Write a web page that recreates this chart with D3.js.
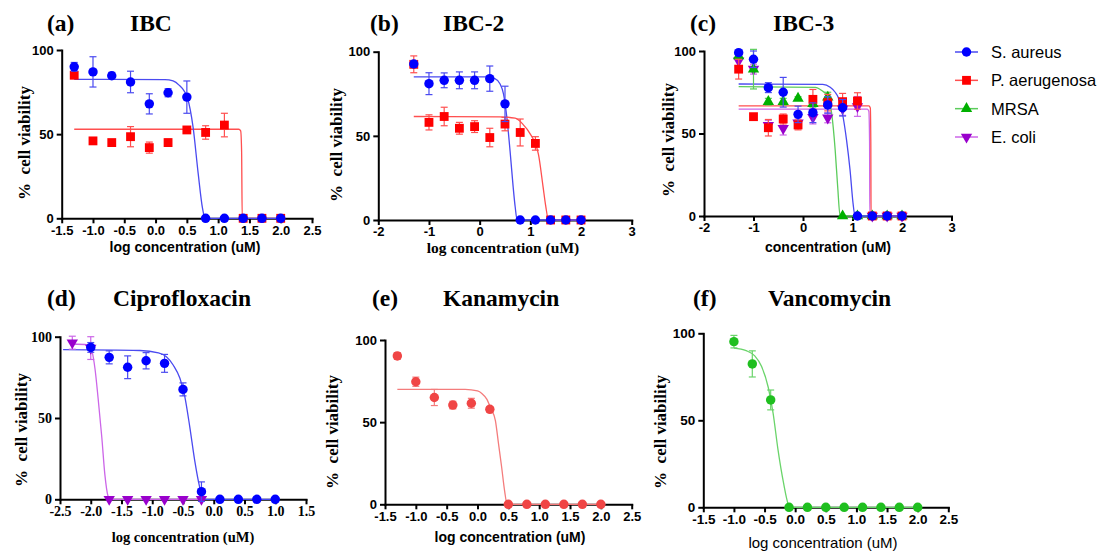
<!DOCTYPE html>
<html lang="en">
<head>
    <meta charset="utf-8">
    <title>Cell viability</title>
    <script src="https://d3js.org/d3.v7.min.js" charset="utf-8"></script>
    <style type="text/css">
        body { margin: 0; background: #fff; }
        .serif { font-family: 'Liberation Serif', 'Times New Roman', serif; font-weight: bold; }
        .sans { font-family: 'Liberation Sans', Arial, sans-serif; }
    </style>
</head>
<body>
    <script type="text/javascript">

        // ---- data ----
        var xStd = [-1.3, -1.0, -0.7, -0.4, -0.1, 0.2, 0.5, 0.8, 1.1, 1.4, 1.7, 2.0];
        var yTicks = [0, 50, 100];
        var ticksHalf = [-1.5, -1.0, -0.5, 0.0, 0.5, 1.0, 1.5, 2.0, 2.5];
        var ticksInt = [-2, -1, 0, 1, 2, 3];
        var ticksCipro = [-2.5, -2.0, -1.5, -1.0, -0.5, 0.0, 0.5, 1.0, 1.5];
        var legendLabels = ["S. aureus", "P. aerugenosa", "MRSA", "E. coli"];

        // (a) IBC
        var aSa = [90, 87, 84.7, 81, 68, 74.6, 72, 0, 0, 0, 0, 0];
        var aSaErr = [2.6, 9, 2, 6.4, 6, 2.4, 9.6, 0, 0, 0, 0, 0];
        var aPa = [85, 46, 45, 48.5, 42, 45, 52.5, 51, 55.4, 0, 0, 0];
        var aPaErr = [1.5, 1, 1, 6, 3.3, 2, 2, 4, 7, 0, 0, 0];
        var aSaFit = [[-1.3, 82.6], [0.15, 82.4], [0.28, 81.6], [0.38, 79], [0.45, 76], [0.51, 71.5], [0.6, 54], [0.68, 27], [0.75, 6], [0.79, 0], [2.0, 0]];
        var aPaFit = [[-1.3, 52.9], [1.33, 52.9], [1.36, 52], [1.375, 40], [1.385, 0], [2.0, 0]];

        // (b) IBC-2
        var bSa = [92.7, 81, 83, 83, 83, 84, 69, 0, 0, 0, 0, 0];
        var bSaErr = [2, 6.5, 4.4, 5, 5, 7.5, 10.5, 0, 0, 0, 0, 0];
        var bPa = [92.5, 58, 61.5, 54.5, 55.5, 49, 57, 52, 45.5, 0, 0, 0];
        var bPaErr = [5, 4.5, 5.5, 3.5, 3.5, 5.5, 4, 8, 4, 0, 0, 0];
        var bSaFit = [[-1.3, 85], [0.15, 85], [0.3, 84], [0.4, 81], [0.47, 75], [0.54, 60], [0.6, 41], [0.66, 20], [0.7, 8], [0.74, 0], [2.0, 0]];
        var bPaFit = [[-1.3, 61.5], [0.4, 61.3], [0.7, 60.5], [0.85, 57], [0.99, 51.5], [1.16, 39], [1.25, 20], [1.3, 9], [1.36, 0], [2.0, 0]];

        // (c) IBC-3
        var cSa = [99, 95, 77.8, 75, 61.6, 62.6, 67.3, 65.6, 0, 0, 0, 0];
        var cSaErr = [1, 5, 3, 9, 5, 6, 5, 5, 0, 0, 0, 0];
        var cPa = [89, 60.2, 53.5, 58.8, 55.2, 70.7, 68.7, 69.3, 69.7, 0, 0, 0];
        var cPaErr = [6, 0, 5, 3, 3, 6, 5, 5, 5, 0, 0, 0];
        var cMr = [97, 89, 69.3, 69.3, 71.3, 68, 72, 0, 0, 0, 0, 0];
        var cMrErr = [2, 12, 2, 2, 1, 2, 3, 0, 0, 0, 0, 0];
        var cEc = [94, 89, 55, 53.1, 56.5, 59.8, 59.5, 65, 66.4, 0, 0, 0];
        var cEcErr = [3, 3, 3, 4, 3, 4, 3, 4, 6, 0, 0, 0];
        var cSaFit = [[-1.3, 80], [0.4, 79.8], [0.55, 78], [0.65, 75], [0.71, 72], [0.81, 60], [0.88, 46], [0.95, 28], [1.01, 8], [1.05, 0], [2.0, 0]];
        var cPaFit = [[-1.3, 66.7], [1.33, 66.7], [1.36, 65.5], [1.37, 45], [1.375, 0], [2.0, 0]];
        var cMrFit = [[-1.3, 78.4], [0.25, 78], [0.38, 76], [0.51, 72.3], [0.58, 62], [0.65, 40], [0.7, 18], [0.75, 0], [2.0, 0]];
        var cEcFit = [[-1.3, 64.8], [1.3, 64.8], [1.33, 63.5], [1.345, 45], [1.35, 0], [2.0, 0]];

        // (d) Ciprofloxacin
        var dSaX = [-2.0, -1.7, -1.4, -1.1, -0.8, -0.5, -0.2, 0.1, 0.4, 0.7, 1.0];
        var dSa = [93.4, 87.3, 81.2, 85.2, 83.6, 67.6, 4.7, 0, 0, 0, 0];
        var dSaErr = [3, 4, 7, 5, 5.5, 4, 6, 0, 0, 0, 0];
        var dEcX = [-2.3, -2.0, -1.7, -1.4, -1.1, -0.8, -0.5, -0.2];
        var dEc = [96.3, 93, 0, 0, 0, 0, 0, 0];
        var dEcErr = [4, 7, 0, 0, 0, 0, 0, 0];
        var dSaFit = [[-2.45, 92], [-1.2, 91.5], [-0.9, 90], [-0.77, 87.7], [-0.66, 82.6], [-0.55, 74.4], [-0.47, 63], [-0.39, 44.6], [-0.31, 24], [-0.23, 7.7], [-0.17, 0], [1.0, 0]];
        var dEcFit = [[-2.3, 95.5], [-2.05, 95], [-1.98, 91], [-1.93, 80], [-1.88, 62], [-1.82, 38], [-1.77, 15], [-1.72, 2], [-1.69, 0], [-0.2, 0]];

        // (e) Kanamycin
        var eKa = [90.3, 74.6, 65, 60.4, 61.5, 57.8, 0, 0, 0, 0, 0, 0];
        var eKaErr = [2, 2.8, 4.9, 2.3, 3, 1.7, 0, 0, 0, 0, 0, 0];
        var eKaFit = [[-1.3, 70], [-0.2, 70], [0.0, 69], [0.07, 67.5], [0.15, 64], [0.22, 58], [0.29, 51], [0.34, 37], [0.39, 23], [0.44, 8], [0.48, 0], [2.0, 0]];

        // (f) Vancomycin
        var fX = [-1.0, -0.7, -0.4, -0.1, 0.2, 0.5, 0.8, 1.1, 1.4, 1.7, 2.0];
        var fVa = [95.2, 82.4, 61.7, 0, 0, 0, 0, 0, 0, 0, 0];
        var fVaErr = [3.6, 7.5, 5.7, 0, 0, 0, 0, 0, 0, 0, 0];
        var fVaFit = [[-1.0, 91.5], [-0.8, 90], [-0.66, 87], [-0.55, 81], [-0.44, 69], [-0.36, 54], [-0.28, 33], [-0.19, 14], [-0.11, 1.5], [-0.07, 0], [2.0, 0]];

        // ---- styles ----
        var SERIF = "'Liberation Serif', 'Times New Roman', serif",
            SANS = "'Liberation Sans', Arial, sans-serif";

        var sty = {
            sa: { sym: d3.symbolCircle, size: 70, rot: 0, color: "#0000ff", line: "#4a4af0" },
            pa: { sym: d3.symbolSquare, size: 78, rot: 0, color: "#ff0000", line: "#ff4f4f" },
            mr: { sym: d3.symbolTriangle, size: 56, rot: 0, color: "#00b000", line: "#5ccc5c" },
            ec: { sym: d3.symbolTriangle, size: 56, rot: 180, color: "#9900cc", line: "#cc66e8" },
            ka: { sym: d3.symbolCircle, size: 70, rot: 0, color: "#f04545", line: "#f47c7c" },
            va: { sym: d3.symbolCircle, size: 70, rot: 0, color: "#1fbf1f", line: "#6ad46a" }
        };

        var fmt1 = function (d) { return d.toFixed(1); },
            fmt0 = function (d) { return String(d); };

        var panels = [
            { tag: "(a)", tagX: 47, name: "IBC", nameX: 130, titleY: 31,
              left: 61.7, right: 312, top: 50, bottom: 218.3, xTicks: ticksHalf, fmt: fmt1,
              tickFont: SANS, tickSize: 13, xlab: "log concentration (uM)", xlabFont: SANS, xlabWeight: "bold", xlabSize: 14,
              xlabX: 185, xlabY: 252, ylabX: 24, ylabY: 143,
              series: [
                  { x: xStd, y: aPa, e: aPaErr, fit: aPaFit, s: sty.pa },
                  { x: xStd, y: aSa, e: aSaErr, fit: aSaFit, s: sty.sa }] },
            { tag: "(b)", tagX: 370, name: "IBC-2", nameX: 443, titleY: 31,
              left: 378.3, right: 631.7, top: 51.7, bottom: 220, xTicks: ticksInt, fmt: fmt0,
              tickFont: SANS, tickSize: 13, xlab: "log concentration (uM)", xlabFont: SERIF, xlabWeight: "bold", xlabSize: 15.5,
              xlabX: 503, xlabY: 253, ylabX: 336, ylabY: 145,
              series: [
                  { x: xStd, y: bPa, e: bPaErr, fit: bPaFit, s: sty.pa },
                  { x: xStd, y: bSa, e: bSaErr, fit: bSaFit, s: sty.sa }] },
            { tag: "(c)", tagX: 690, name: "IBC-3", nameX: 773, titleY: 31,
              left: 704, right: 951.5, top: 51, bottom: 216, xTicks: ticksInt, fmt: fmt0,
              tickFont: SANS, tickSize: 13, xlab: "concentration (uM)", xlabFont: SANS, xlabWeight: "bold", xlabSize: 14,
              xlabX: 828, xlabY: 252, ylabX: 668, ylabY: 140,
              series: [
                  { x: xStd, y: cEc, e: cEcErr, fit: cEcFit, s: sty.ec },
                  { x: xStd, y: cMr, e: cMrErr, fit: cMrFit, s: sty.mr },
                  { x: xStd, y: cPa, e: cPaErr, fit: cPaFit, s: sty.pa },
                  { x: xStd, y: cSa, e: cSaErr, fit: cSaFit, s: sty.sa }] },
            { tag: "(d)", tagX: 47, name: "Ciprofloxacin", nameX: 113, titleY: 306,
              left: 60, right: 306, top: 336.7, bottom: 499.3, xTicks: ticksCipro, fmt: fmt1,
              tickFont: SERIF, tickSize: 14, xlab: "log concentration (uM)", xlabFont: SERIF, xlabWeight: "bold", xlabSize: 14.5,
              xlabX: 183, xlabY: 542, ylabX: 21, ylabY: 430,
              series: [
                  { x: dEcX, y: dEc, e: dEcErr, fit: dEcFit, s: sty.ec },
                  { x: dSaX, y: dSa, e: dSaErr, fit: dSaFit, s: sty.sa }] },
            { tag: "(e)", tagX: 372, name: "Kanamycin", nameX: 443, titleY: 306,
              left: 385, right: 631.7, top: 340, bottom: 504.3, xTicks: ticksHalf, fmt: fmt1,
              tickFont: SANS, tickSize: 13, xlab: "log concentration (uM)", xlabFont: SANS, xlabWeight: "bold", xlabSize: 14,
              xlabX: 510, xlabY: 542, ylabX: 332, ylabY: 432,
              series: [
                  { x: xStd, y: eKa, e: eKaErr, fit: eKaFit, s: sty.ka }] },
            { tag: "(f)", tagX: 693, name: "Vancomycin", nameX: 768, titleY: 306,
              left: 703.3, right: 948.3, top: 333.3, bottom: 507.3, xTicks: ticksHalf, fmt: fmt1,
              tickFont: SANS, tickSize: 13.5, xlab: "log concentration (uM)", xlabFont: SANS, xlabWeight: "normal", xlabSize: 15,
              xlabX: 823, xlabY: 548, ylabX: 660, ylabY: 432,
              series: [
                  { x: fX, y: fVa, e: fVaErr, fit: fVaFit, s: sty.va }] }
        ];

        var svg = d3.select("body").append("svg")
            .attr("width", 1105)
            .attr("height", 552)
            .style("background", "#fff");

        function styleAxis(ax, p) {
            ax.select(".domain").attr("stroke", "#000").attr("stroke-width", 2).attr("stroke-linecap", "square");
            ax.selectAll(".tick line").attr("stroke", "#000").attr("stroke-width", 2);
            ax.selectAll(".tick text")
                .attr("font-family", p.tickFont)
                .attr("font-weight", "bold")
                .attr("font-size", p.tickSize)
                .attr("fill", "#000");
        }

        panels.forEach(function (p) {
            var x = d3.scaleLinear()
                .domain([p.xTicks[0], p.xTicks[p.xTicks.length - 1]])
                .range([p.left, p.right]);
            var y = d3.scaleLinear()
                .domain([0, 100])
                .range([p.bottom, p.top]);

            var g = svg.append("g");

            // titles
            g.append("text").attr("class", "serif")
                .attr("x", p.tagX).attr("y", p.titleY)
                .attr("font-size", 23.5).text(p.tag);
            g.append("text").attr("class", "serif")
                .attr("x", p.nameX).attr("y", p.titleY)
                .attr("font-size", 23.5).text(p.name);

            // axes
            var xa = g.append("g")
                .attr("transform", "translate(0," + p.bottom + ")")
                .call(d3.axisBottom(x).tickValues(p.xTicks).tickFormat(p.fmt)
                    .tickSize(5).tickSizeOuter(0).tickPadding(2));
            styleAxis(xa, p);

            var ya = g.append("g")
                .attr("transform", "translate(" + p.left + ",0)")
                .call(d3.axisLeft(y).tickValues(yTicks).tickFormat(fmt0)
                    .tickSize(5).tickSizeOuter(0).tickPadding(3));
            styleAxis(ya, p);

            // axis labels
            g.append("text")
                .attr("x", p.xlabX).attr("y", p.xlabY)
                .attr("text-anchor", "middle")
                .attr("font-family", p.xlabFont)
                .attr("font-weight", p.xlabWeight)
                .attr("font-size", p.xlabSize)
                .text(p.xlab);

            g.append("text").attr("class", "serif")
                .attr("transform", "translate(" + p.ylabX + "," + p.ylabY + ") rotate(-90)")
                .attr("text-anchor", "middle")
                .attr("dy", "0.35em")
                .attr("font-size", 17)
                .text("%\u2002cell viability");

            var line = d3.line()
                .x(function (d) { return x(d[0]); })
                .y(function (d) { return y(d[1]); })
                .curve(d3.curveMonotoneX);

            // fitted curves
            p.series.forEach(function (sr) {
                g.append("path")
                    .datum(sr.fit)
                    .attr("fill", "none")
                    .attr("stroke", sr.s.line)
                    .attr("stroke-width", 1.3)
                    .attr("d", line);
            });

            // error bars + markers
            p.series.forEach(function (sr) {
                var pts = sr.x.map(function (xv, i) { return { x: xv, y: sr.y[i], e: sr.e[i] }; });
                var eb = g.append("g")
                    .attr("stroke", sr.s.line)
                    .attr("stroke-width", 1.2);
                pts.filter(function (d) { return d.e > 0; }).forEach(function (d) {
                    var cx = x(d.x), y1 = y(d.y + d.e), y2 = y(d.y - d.e);
                    eb.append("line").attr("x1", cx).attr("x2", cx).attr("y1", y1).attr("y2", y2);
                    eb.append("line").attr("x1", cx - 3.5).attr("x2", cx + 3.5).attr("y1", y1).attr("y2", y1);
                    eb.append("line").attr("x1", cx - 3.5).attr("x2", cx + 3.5).attr("y1", y2).attr("y2", y2);
                });

                g.selectAll(null)
                    .data(pts)
                    .enter()
                    .append("path")
                    .attr("d", d3.symbol().type(sr.s.sym).size(sr.s.size))
                    .attr("transform", function (d) {
                        return "translate(" + x(d.x) + "," + y(d.y) + ") rotate(" + sr.s.rot + ")";
                    })
                    .attr("fill", sr.s.color);
            });
        });

        // legend
        var legSty = [sty.sa, sty.pa, sty.mr, sty.ec];
        var legY = d3.scalePoint().domain(legendLabels).range([52, 137]);
        var leg = svg.append("g");
        legendLabels.forEach(function (lab, i) {
            var s = legSty[i], cy = legY(lab);
            leg.append("line")
                .attr("x1", 955).attr("x2", 978).attr("y1", cy).attr("y2", cy)
                .attr("stroke", s.line).attr("stroke-width", 1.5);
            leg.append("path")
                .attr("d", d3.symbol().type(s.sym).size(s.size))
                .attr("transform", "translate(966.5," + cy + ") rotate(" + s.rot + ")")
                .attr("fill", s.color);
            leg.append("text")
                .attr("x", 991).attr("y", cy)
                .attr("dy", "0.36em")
                .attr("font-family", SANS)
                .attr("font-size", 16.5)
                .text(lab);
        });

    </script>
</body>
</html>
